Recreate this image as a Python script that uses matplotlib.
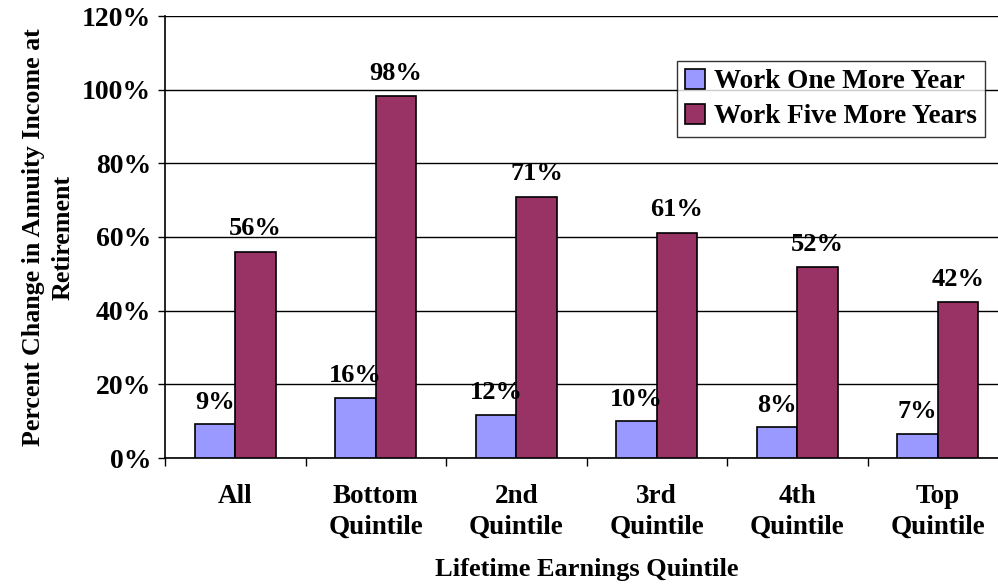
import matplotlib.pyplot as plt
import numpy as np
from matplotlib.ticker import FixedLocator, NullFormatter

categories = ["All", "Bottom\nQuintile", "2nd\nQuintile", "3rd\nQuintile",
              "4th\nQuintile", "Top\nQuintile"]
one_year = [0.092, 0.163, 0.118, 0.100, 0.084, 0.066]
five_years = [0.560, 0.982, 0.709, 0.611, 0.518, 0.423]
one_labels = ["9%", "16%", "12%", "10%", "8%", "7%"]
five_labels = ["56%", "98%", "71%", "61%", "52%", "42%"]

plt.rcParams["font.family"] = ["Liberation Serif", "DejaVu Serif"]
plt.rcParams["font.weight"] = "bold"

fig = plt.figure(figsize=(9.98, 5.84), dpi=100)
# axes spans x 165..1008 px, y 16..458 px
ax = fig.add_axes([165 / 998, 1 - 458 / 584, 843 / 998, 442 / 584])

x = np.arange(len(categories))
w = 0.288
c1 = "#9999FF"
c2 = "#993366"
ax.bar(x - w / 2, one_year, w, color=c1, edgecolor="black", linewidth=1.2,
       label="Work One More Year", zorder=3)
ax.bar(x + w / 2, five_years, w, color=c2, edgecolor="black", linewidth=1.2,
       label="Work Five More Years", zorder=3)

for i in range(len(categories)):
    ax.annotate(one_labels[i], (x[i] - w / 2, one_year[i]), xytext=(0, 22),
                textcoords="offset pixels", ha="center", va="center",
                fontsize=19, fontweight="bold", zorder=4)
    ax.annotate(five_labels[i], (x[i] + w / 2, five_years[i]), xytext=(0, 23),
                textcoords="offset pixels", ha="center", va="center",
                fontsize=19, fontweight="bold", zorder=4)

ax.set_xlim(-0.5, len(categories) - 0.5)
ax.set_ylim(0, 1.2)
yt = np.arange(0, 1.21, 0.2)
ax.set_yticks(yt)
ax.set_yticklabels([f"{int(round(v * 100))}%" for v in yt], fontsize=20,
                   fontweight="bold")
ax.yaxis.grid(True, color="black", linewidth=1.0, zorder=0)
ax.set_axisbelow(True)

ax.set_xticks(x)
ax.set_xticklabels(categories, fontsize=19.5, fontweight="bold", linespacing=1.3)
ax.tick_params(axis="x", length=0, pad=19)
ax.xaxis.set_minor_locator(FixedLocator(np.arange(-0.5, len(categories), 1.0)))
ax.xaxis.set_minor_formatter(NullFormatter())
ax.tick_params(axis="x", which="minor", length=6, width=1, color="black",
               direction="out")
ax.tick_params(axis="y", length=5, width=1, color="black", pad=5)

for s in ["top", "right"]:
    ax.spines[s].set_visible(False)
ax.spines["left"].set_linewidth(1.2)
ax.spines["bottom"].set_linewidth(1.2)

ax.set_xlabel("Lifetime Earnings Quintile", fontsize=19, fontweight="bold",
              labelpad=13)
ax.set_ylabel("Percent Change in Annuity Income at\nRetirement", fontsize=18.7,
              fontweight="bold", labelpad=5, linespacing=1.4)

leg = ax.legend(loc="upper left", fontsize=19.5, frameon=True,
                fancybox=False, edgecolor="black", handlelength=0.75,
                handleheight=0.75, handletextpad=0.3, borderpad=0.3,
                labelspacing=0.35, borderaxespad=0)
leg.set_bbox_to_anchor((677 / 998, 1 - 61 / 584), transform=fig.transFigure)
leg.get_frame().set_linewidth(1.0)

fig.savefig("out.png", dpi=100)
